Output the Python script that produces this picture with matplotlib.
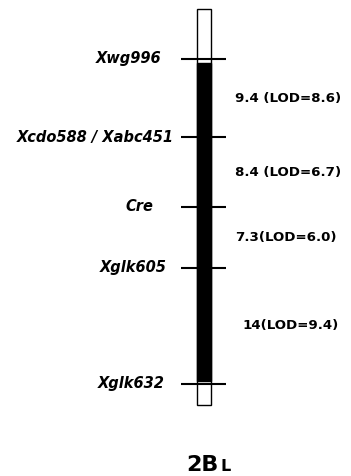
import matplotlib.pyplot as plt

# genetic map of chromosome arm 2BL
markers = ['Xwg996', 'Xcdo588 / Xabc451', 'Cre', 'Xglk605', 'Xglk632']
intervals = [9.4, 8.4, 7.3, 14]          # cM between adjacent markers
interval_labels = ['9.4 (LOD=8.6)', '8.4 (LOD=6.7)', '7.3(LOD=6.0)', '14(LOD=9.4)']
arm_name = '2B'

# cumulative map positions
pos = [0.0]
for d in intervals:
    pos.append(pos[-1] + d)

px_per_cm = 8.31
top_px = 59
plt.rcParams['font.family'] = ['DejaVu Sans']
fig = plt.figure(figsize=(3.51, 4.76), dpi=100)
ax = fig.add_axes([0, 0, 1, 1])
ax.set_xlim(0, 351)
ax.set_ylim((476 - top_px) / px_per_cm, -top_px / px_per_cm)
ax.axis('off')

# chromosome bar: white tips, black body
bx0, bx1 = 197, 211
y_top = pos[0] - 6.0
y_bot = pos[-1] + 2.5
ax.add_patch(plt.Rectangle((bx0, y_top), bx1 - bx0, y_bot - y_top,
                           facecolor='white', edgecolor='black', lw=1.0))
ax.add_patch(plt.Rectangle((bx0, pos[0] + 0.5), bx1 - bx0, pos[-1] - pos[0] - 0.8,
                           facecolor='black', edgecolor='black', lw=1.0))

# marker ticks and names
label_right = [161, 174, 153, 167, 165]
for m, p, xr in zip(markers, pos, label_right):
    ax.plot([181, 226], [p, p], color='black', lw=1.5, solid_capstyle='butt')
    ax.text(xr, p, m, ha='right', va='center', fontsize=10.5,
            fontweight='bold', fontstyle='italic')

# distances between markers
label_left = [235, 235, 235, 242]
for i, (lab, xl) in enumerate(zip(interval_labels, label_left)):
    mid = (pos[i] + pos[i + 1]) / 2
    ax.text(xl, mid, lab, ha='left', va='center', fontsize=9.6, fontweight='bold')

# arm name with small-cap L
yb = (471 - top_px) / px_per_cm
ax.text(219, yb, arm_name, ha='right', va='baseline', fontsize=16, fontweight='bold')
ax.text(220, yb, 'L', ha='left', va='baseline', fontsize=11.5, fontweight='bold')

fig.savefig('out.png', dpi=100)
